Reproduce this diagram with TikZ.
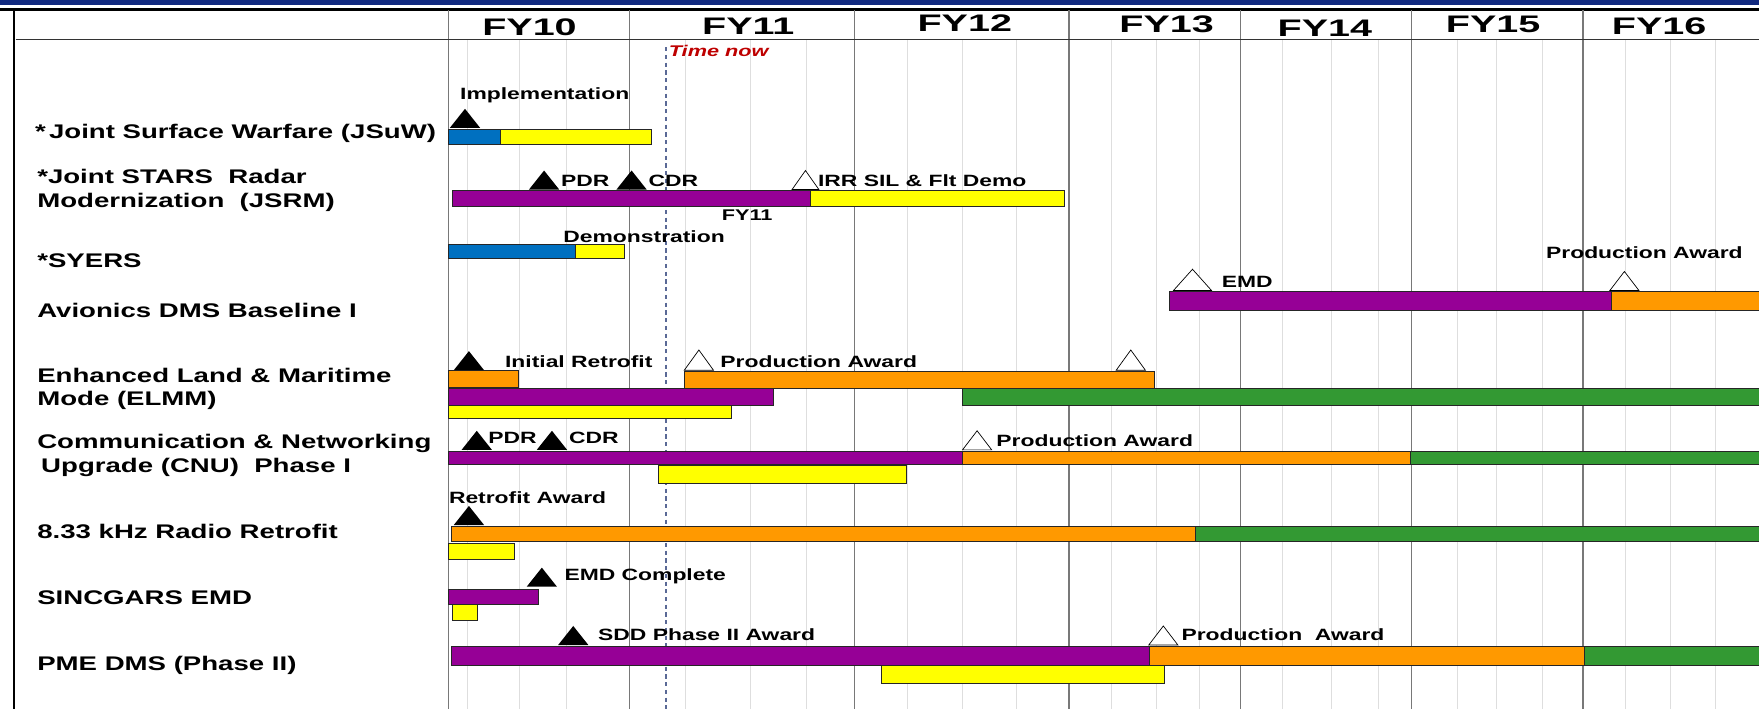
\documentclass[tikz,border=0pt]{standalone}
\usepackage{fontspec}
\setmainfont{Liberation Sans}[FakeStretch=1.4]
\newfontfamily\fyfont{Liberation Sans}[FakeStretch=1.65]
\definecolor{bandblue}{RGB}{18,42,128}
\definecolor{barblue}{RGB}{0,112,192}
\definecolor{baryellow}{RGB}{255,255,0}
\definecolor{barpurple}{RGB}{150,0,150}
\definecolor{barorange}{RGB}{255,153,0}
\definecolor{bargreen}{RGB}{51,153,51}
\definecolor{nowline}{RGB}{90,105,150}
\definecolor{nowred}{RGB}{190,0,0}
\definecolor{majorgrid}{RGB}{120,120,120}
\definecolor{minorgrid}{RGB}{222,222,222}
\usetikzlibrary{positioning}

\begin{document}
\begin{tikzpicture}[x=0.028cm,y=-0.028cm,
  task/.style={anchor=west,inner sep=0pt,align=left,font=\fontsize{14}{16.7}\selectfont\bfseries},
  event/.style={anchor=west,inner sep=0pt,font=\fontsize{11.6}{13}\selectfont\bfseries},
  year/.style={inner sep=0pt,font=\fyfont\fontsize{17}{19}\selectfont\bfseries},
  bar/.style={draw=black!85,line width=0.6pt}]
  \useasboundingbox (0,0) rectangle (1568,632);
  % frame
  \fill[bandblue] (0,0) rectangle (1568,4.5);
  \draw[line width=1.6pt] (0,8.5) -- (1568,8.5);
  \draw[line width=2pt] (12.5,8.5) -- (12.5,632);
  % grid
  \foreach \x in {417,463,505,611,669,719,809,858,906,991,1031,1069,1143,1187,1229,1299,1334,1375,1449,1489,1529}
    \draw[minorgrid,line width=0.6pt] (\x,36) -- (\x,632);
  \foreach \x in {400,561,762,953,1106,1258,1411}
    \draw[majorgrid,line width=0.9pt] (\x,9) -- (\x,632);
  \draw[black!80,line width=0.9pt] (14,35.5) -- (1568,35.5);
  % years
  \node[year] (fy10) at (472,24) {FY10};
  \node[year] (fy11) at (667,23) {FY11};
  \node[year] (fy12) at (860,21) {FY12};
  \node[year] (fy13) at (1040,22) {FY13};
  \node[year] (fy14) at (1181,25) {FY14};
  \node[year] (fy15) at (1331,22) {FY15};
  \node[year] (fy16) at (1479,23) {FY16};
  % time now
  \draw[nowline,line width=1.3pt,dash pattern=on 3pt off 2.5pt] (594,42) -- (594,632);
  \node[anchor=west,inner sep=0pt,text=nowred,font=\fontsize{11}{12}\selectfont\bfseries\itshape] (now) at (596,45) {Time now};
  % programs
  \node[task] (jsuw) at (31,119) {*\,Joint Surface Warfare (JSuW)};
  \node[task] (jsrm) at (33,169.5) {*Joint STARS\ \ Radar\\Modernization\ \ (JSRM)};
  \node[task] (syers) at (33,232) {*SYERS};
  \node[task] (avionics) at (33,277) {Avionics DMS Baseline I};
  \node[task] (elmm) at (33,346.5) {Enhanced Land \& Maritime\\Mode (ELMM)};
  \node[task] (cnu) at (33,406) {Communication \& Networking\\\hspace*{0.2em}Upgrade (CNU)\ \ Phase I};
  \node[task] (radio) at (33,474) {8.33 kHz Radio Retrofit};
  \node[task] (sincgars) at (33,533) {SINCGARS EMD};
  \node[task] (pme) at (33,593) {PME DMS (Phase II)};
  % bars
  \foreach \xa/\ya/\xb/\yb/\col in {
      400/115/446/128.5/barblue, 446/115/581/128.5/baryellow,
      403/170/722/184/barpurple, 722/170/949/184/baryellow,
      400/218/513/230/barblue, 513/218/557/230/baryellow,
      1042/260/1436/277/barpurple, 1436/260/1575/277/barorange,
      400/330/462/345/barorange, 610/331/1029/346/barorange,
      400/346/689/361/barpurple, 858/346/1575/361/bargreen,
      400/361/652/373/baryellow,
      400/402/858/414/barpurple, 858/402/1257/414/barorange,
      1257/402/1575/414/bargreen, 587/415/808/431/baryellow,
      402/469/1066/483/barorange, 1066/469/1575/483/bargreen,
      400/484/459/499/baryellow,
      400/525/480/539/barpurple, 403/539/426/553/baryellow,
      402/576/1025/593/barpurple, 1025/576/1412/593/barorange,
      1412/576/1575/593/bargreen, 786/593/1038/609/baryellow}
    \draw[bar,fill=\col] (\xa,\ya) rectangle (\xb,\yb);
  % milestones
  \foreach \x/\y in {414.5/114,485/169,563/169,418/330,425/401,492/401,418/468,483/523,511/575}
    \fill (\x-13.5,\y) -- (\x,\y-17) -- (\x+13.5,\y) -- cycle;
  \foreach \x/\y/\w/\h in {718/169/12/17,1063/259/17/19,1448/259/13/17,623/330/13/18,1008/330/13/18,871/401/13/17,1037/575/13/17}
    \draw[fill=white,line width=0.5pt] (\x-\w,\y) -- (\x,\y-\h) -- (\x+\w,\y) -- cycle;
  % milestone labels
  \node[event] (jsuw-impl) at (410,85) {Implementation};
  \node[event] (jsrm-pdr) at (500,161) {PDR};
  \node[event] (jsrm-cdr) at (578,161) {CDR};
  \node[event] (jsrm-irr) at (729,161) {IRR SIL \& Flt Demo};
  \node[event,anchor=center,font=\fontsize{11}{12}\selectfont\bfseries] (jsrm-fy) at (666,192) {FY11};
  \node[event] (syers-demo) at (502,211) {Demonstration};
  \node[event] (avio-emd) at (1089,251) {EMD};
  \node[event] (avio-prod) at (1378,225) {Production Award};
  \node[event] (elmm-init) at (450,322) {Initial Retrofit};
  \node[event] (elmm-prod) at (642,322) {Production Award};
  \node[event] (cnu-pdr) at (435,390) {PDR};
  \node[event] (cnu-cdr) at (507,390) {CDR};
  \node[event] (cnu-prod) at (888,393) {Production Award};
  \node[event] (radio-award) at (400,444) {Retrofit Award};
  \node[event] (sinc-emd) at (503,514) {EMD Complete};
  \node[event] (pme-sdd) at (533,566) {SDD Phase II Award};
  \node[event] (pme-prod) at (1053,566) {Production\ \ Award};
\end{tikzpicture}
\end{document}
